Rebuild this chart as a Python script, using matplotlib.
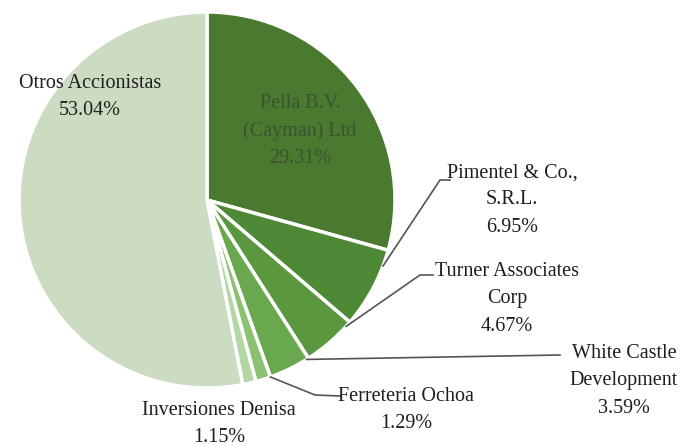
#import necessary libraries
import numpy as np
import matplotlib.pyplot as plt

#####data of the chart
labels = ['Pella B.V.\n(Cayman) Ltd\n29.31%', 'Pimentel & Co.,\nS.R.L.\n6.95%',
          'Turner Associates\nCorp\n4.67%', 'White Castle\nDevelopment\n3.59%',
          'Ferreteria Ochoa\n1.29%', 'Inversiones Denisa\n1.15%',
          'Otros Accionistas\n53.04%']
shares = [29.31, 6.95, 4.67, 3.59, 1.29, 1.15, 53.04]
colors = ['#497a2f', '#4e8935', '#5a973f', '#69a84e', '#8cc072', '#b4d6a4', '#cbdcc3']

#####layout in pixels (y from bottom)
W, H = 687, 446
cx, cy, r = 207, 246, 188
text_pos = [(300, 315), (512, 246), (507, 147), (624, 65), (406, 36), (219, 22), (90, 349)]
text_col = ['#3a5330', '#1e1e1e', '#1e1e1e', '#1e1e1e', '#1e1e1e', '#1e1e1e', '#1e1e1e']
# where along the wedge the leader starts (0 = first edge, 0.5 = middle)
leader_frac = [0, 0.2, 0.1, 0.05, 0.0, 0, 0]
# leader line bend points after the wedge edge (None = no leader)
leader_pts = [None,
              [(440, 266), (450, 266)],
              [(420, 171), (433, 171)],
              [(560, 91)],
              [(315, 51), (340, 50)],
              None, None]

fig = plt.figure(figsize=(W / 100, H / 100), dpi=100)
ax = fig.add_axes([0, 0, 1, 1])
wedges, _ = ax.pie(shares, colors=colors, startangle=90, counterclock=False,
                   center=(cx, cy), radius=r,
                   wedgeprops=dict(edgecolor='white', linewidth=2.5))
ax.set_xlim(0, W)
ax.set_ylim(0, H)
ax.set_aspect('equal')
ax.axis('off')

#####labels and leader lines
for w, lab, pos, col, pts, f in zip(wedges, labels, text_pos, text_col, leader_pts, leader_frac):
    ax.text(pos[0], pos[1], lab, ha='center', va='center', fontsize=14.5,
            family='Liberation Serif', color=col, linespacing=1.6)
    if pts is None:
        continue
    # counterclock=False -> theta2 is the edge reached first
    ang = np.deg2rad(w.theta2 - f * (w.theta2 - w.theta1))
    xs = [cx + r * np.cos(ang)] + [p[0] for p in pts]
    ys = [cy + r * np.sin(ang)] + [p[1] for p in pts]
    ax.plot(xs, ys, color='#555555', lw=1.2)

fig.savefig('out.png', dpi=100)
